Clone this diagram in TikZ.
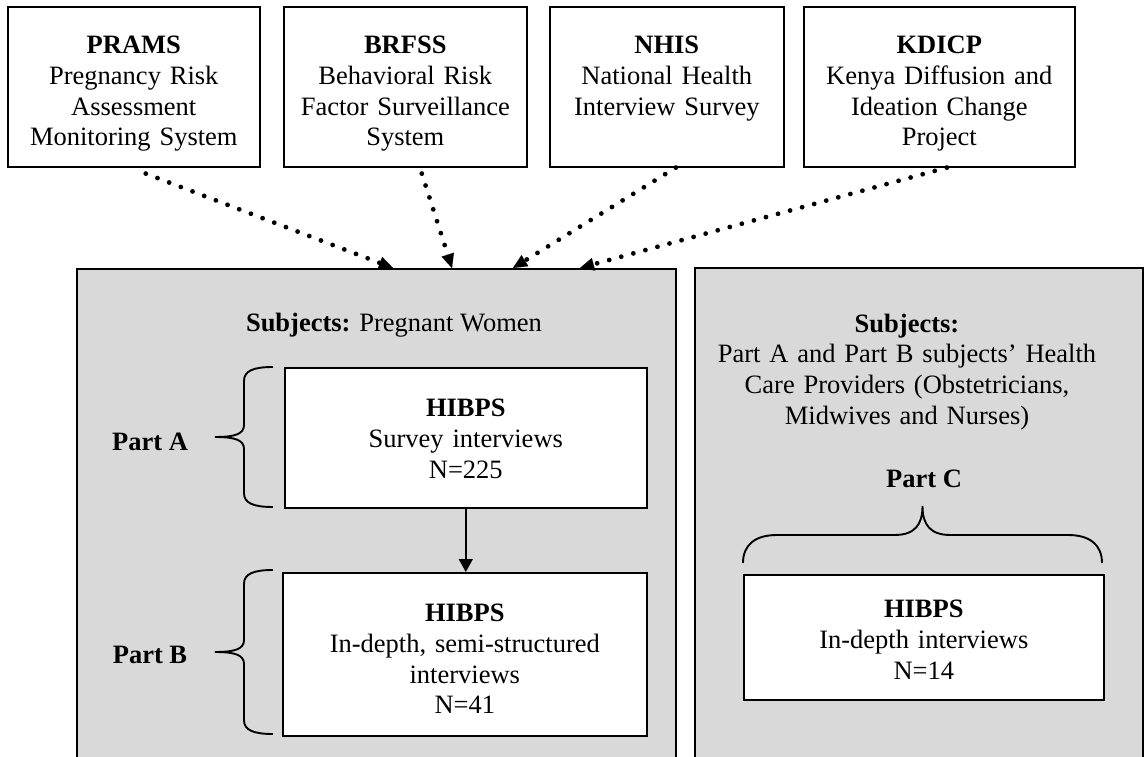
\documentclass[tikz,border=0pt]{standalone}
\usepackage{fontspec}
\setmainfont{Liberation Serif}
\usepackage{tikz}
\usetikzlibrary{arrows.meta, calc}

\definecolor{panelgray}{RGB}{217,217,217}

\tikzset{
    panel/.style={draw=black, line width=1.5pt, fill=panelgray, inner sep=0pt, anchor=north west},
    whitebox/.style n args={3}{draw=black, line width=1.6pt, fill=white, inner sep=0pt,
        text width=#1, text height=#2, text depth=#3, align=center, anchor=north west},
    feed/.style={line width=4.8pt, line cap=round, dash pattern=on 0pt off 12.5pt,
        -{Triangle[length=14pt, width=13pt, line width=0.1pt]}},
    flow/.style={line width=1.6pt, -{Triangle[length=13pt, width=14pt]}},
    brace/.style={line width=1.9pt}
}

% curly brace opening to the left, ends at x=#1, from y=#2 down to y=#3
\def\leftbrace#1#2#3{%
    \draw[brace] (#1,#2) .. controls (#1-20,#2) and (#1-29,#2+4) .. (#1-29,#2+14)
        -- (#1-29,{(#2+#3)/2-12})
        .. controls (#1-29,{(#2+#3)/2-3}) and (#1-38,{(#2+#3)/2}) .. (#1-58,{(#2+#3)/2})
        .. controls (#1-38,{(#2+#3)/2}) and (#1-29,{(#2+#3)/2+3}) .. (#1-29,{(#2+#3)/2+12})
        -- (#1-29,#3-14)
        .. controls (#1-29,#3-4) and (#1-20,#3) .. (#1,#3);
}

% curly brace opening upwards, ends at y=#1, from x=#2 to x=#3
\def\topbrace#1#2#3{%
    \draw[brace] (#2,#1) .. controls (#2,#1-18) and (#2+12,#1-28) .. (#2+34,#1-28)
        -- ({(#2+#3)/2-28},#1-28)
        .. controls ({(#2+#3)/2-8},#1-28) and ({(#2+#3)/2},#1-38) .. ({(#2+#3)/2},#1-57)
        .. controls ({(#2+#3)/2},#1-38) and ({(#2+#3)/2+8},#1-28) .. ({(#2+#3)/2+28},#1-28)
        -- (#3-34,#1-28)
        .. controls (#3-12,#1-28) and (#3,#1-18) .. (#3,#1);
}

\begin{document}
\begin{tikzpicture}[x=1pt, y=-1pt, font=\fontsize{26.5}{30.7}\selectfont]
    \useasboundingbox (0,0) rectangle (1144,757);
    \clip (0,0) rectangle (1144,757);

    % panels
    \node[panel, minimum width=599pt, minimum height=560pt] (women) at (76,268) {};
    \node[panel, minimum width=448pt, minimum height=560pt] (carers) at (694,267) {};

    % data sources
    \node[whitebox={252pt}{47pt}{113pt}] (prams) at (7,6)
        {\textbf{PRAMS}\\ Pregnancy Risk\\ Assessment\\ Monitoring System};
    \node[whitebox={243pt}{47pt}{113pt}] (brfss) at (283,6)
        {\textbf{BRFSS}\\ Behavioral Risk\\ Factor Surveillance\\ System};
    \node[whitebox={234pt}{47pt}{113pt}] (nhis) at (549,6)
        {\textbf{NHIS}\\ National Health\\ Interview Survey};
    \node[whitebox={271pt}{47pt}{113pt}] (kdicp) at (803,6)
        {\textbf{KDICP}\\ Kenya Diffusion and\\ Ideation Change\\ Project};

    % subjects
    \node[anchor=base] (womentext) at (394,331) {\textbf{Subjects:} Pregnant Women};
    \node[anchor=base, text width=440pt, align=center] (carerstext) at (907,332)
        {\textbf{Subjects:}\\ Part A and Part B subjects’ Health\\ Care Providers (Obstetricians,\\ Midwives and Nurses)};

    % study parts
    \node[whitebox={362pt}{49pt}{91pt}] (surveys) at (284,367)
        {\textbf{HIBPS}\\ Survey interviews\\ N=225};
    \node[whitebox={364pt}{49pt}{114pt}] (indepth) at (282,572)
        {\textbf{HIBPS}\\ In-depth, semi-structured\\ interviews\\ N=41};
    \node[whitebox={360pt}{43pt}{82pt}] (providers) at (743,574)
        {\textbf{HIBPS}\\ In-depth interviews\\ N=14};

    \node[anchor=base] (parta) at (150,450) {\textbf{Part A}};
    \node[anchor=base] (partb) at (150,663) {\textbf{Part B}};
    \node[anchor=base] (partc) at (924,487) {\textbf{Part C}};

    % braces
    \leftbrace{273}{367}{507}
    \leftbrace{273}{570}{734}
    \topbrace{563}{743}{1102}

    % dotted feeds into the panel
    \coordinate (P1E) at ([xshift=317pt]women.north west);
    \coordinate (P2E) at ([xshift=376pt]women.north west);
    \coordinate (P3E) at ([xshift=437pt]women.north west);
    \coordinate (P4E) at ([xshift=504pt]women.north west);

    \foreach \start/\dx/\dy/\end in {
        prams/12/-6/P1E,
        brfss/16.5/-6/P2E,
        nhis/9/0/P3E,
        kdicp/7.5/0/P4E}
    {
        \draw[feed] ([xshift=\dx pt, yshift=\dy pt]\start.south) -- (\end);
    }

    % part A to part B
    \draw[flow] (surveys.south) -- (surveys.south |- indepth.north);
\end{tikzpicture}
\end{document}
